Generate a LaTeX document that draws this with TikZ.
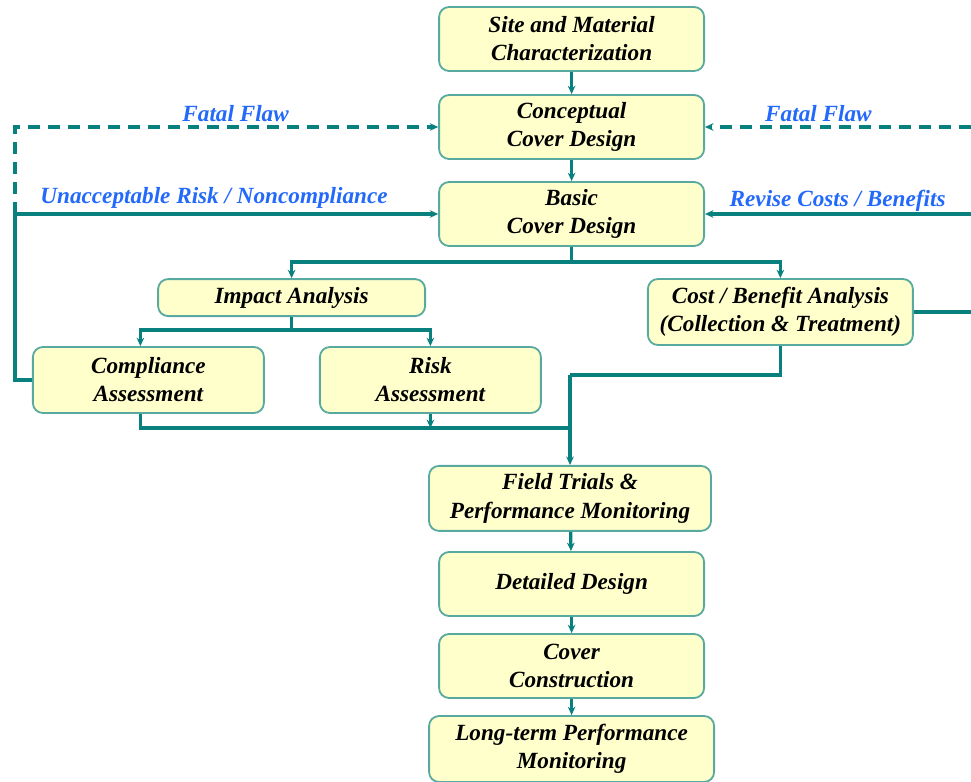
\documentclass[tikz,border=0pt]{standalone}
\usepackage{fontspec}
\setmainfont{Liberation Serif}
\usepackage{xcolor}
\usepackage{tikz}
\usetikzlibrary{arrows.meta}
\definecolor{flowteal}{RGB}{8,128,126}
\definecolor{boxedge}{RGB}{88,170,160}
\definecolor{boxfill}{RGB}{255,255,204}
\definecolor{loopblue}{RGB}{35,105,250}
\tikzset{
  box/.style={draw=boxedge,fill=boxfill,line width=1.3pt,rounded corners=0.25cm,align=center,inner sep=0pt,
    font=\fontsize{16.5}{20}\selectfont\bfseries\itshape},
  ln/.style={draw=flowteal,line width=2.3pt},
  flow/.style={ln,-{Stealth[length=2.1mm,width=1.9mm]}},
  fb/.style={flow,dash pattern=on 8.5pt off 5.7pt},
  lab/.style={text=loopblue,font=\fontsize{16.5}{20}\selectfont\bfseries\itshape}
}
\newcommand{\bx}[6]{\node[box,minimum width=#4cm,minimum height=#5cm] (#1) at (#2,#3) {#6};}
\begin{document}
\begin{tikzpicture}
\useasboundingbox (0,0) rectangle (24.275,-19.55);
\bx{site}{14.29}{-0.975}{6.625}{1.6}{Site and Material\\Characterization}
\bx{concept}{14.29}{-3.175}{6.625}{1.6}{Conceptual\\Cover Design}
\bx{basic}{14.29}{-5.35}{6.625}{1.6}{Basic\\Cover Design}
\bx{impact}{7.29}{-7.44}{6.675}{0.925}{Impact Analysis}
\bx{cost}{19.51}{-7.8}{6.625}{1.65}{Cost / Benefit Analysis\\(Collection \& Treatment)}
\bx{comply}{3.71}{-9.5}{5.775}{1.65}{Compliance\\Assessment}
\bx{risk}{10.76}{-9.5}{5.525}{1.65}{Risk\\Assessment}
\bx{field}{14.25}{-12.46}{7.05}{1.625}{Field Trials \&\\Performance Monitoring}
\bx{detail}{14.29}{-14.6}{6.625}{1.6}{Detailed Design}
\bx{build}{14.29}{-16.65}{6.625}{1.6}{Cover\\Construction}
\bx{longterm}{14.29}{-18.725}{7.125}{1.65}{Long-term Performance\\Monitoring}
\coordinate (bsplit) at (14.29,-6.55); \coordinate (isplit) at (7.29,-8.25);
\coordinate (merge) at (14.25,-10.7); \coordinate (cjoin) at (14.25,-9.375);
\coordinate (lb) at (0.375,-5.35); \coordinate (lt) at (0.375,-3.175);
\coordinate (rb) at (24.6,-5.35); \coordinate (rt) at (24.6,-3.175);
\draw[flow] (site) -- (concept); \draw[flow] (concept) -- (basic);
\draw[ln] (basic) -- (bsplit); \draw[flow] (bsplit) -| (impact); \draw[flow] (bsplit) -| (cost);
\draw[ln] (impact) -- (isplit); \draw[flow] (isplit) -| ([xshift=-0.2cm]comply.north); \draw[flow] (isplit) -| (risk);
\draw[ln] ([xshift=-0.2cm]comply.south) |- (merge); \draw[flow] (risk.south) -- (risk.south |- merge);
\draw[ln] (cost) |- (cjoin); \draw[flow] (cjoin) -- (field);
\draw[flow] (field) -- (detail); \draw[flow] (detail) -- (build); \draw[flow] (build) -- (longterm);
\draw[ln] (comply.west) -| (lb); \draw[flow] (lb) -- (basic.west); \draw[fb] (lb) -- (lt) -- (concept.west);
\draw[ln] (cost.east) -| (rb); \draw[flow] (rb) -- (basic.east); \draw[fb] (rb) -- (rt) -- (concept.east);
\node[lab] (flawleft) at (5.89,-2.85) {Fatal Flaw};
\node[lab] (flawright) at (20.46,-2.85) {Fatal Flaw};
\node[lab] (unaccept) at (5.35,-4.95) {Unacceptable Risk / Noncompliance};
\node[lab] (revise) at (20.94,-5.03) {Revise Costs / Benefits};
\end{tikzpicture}
\end{document}
